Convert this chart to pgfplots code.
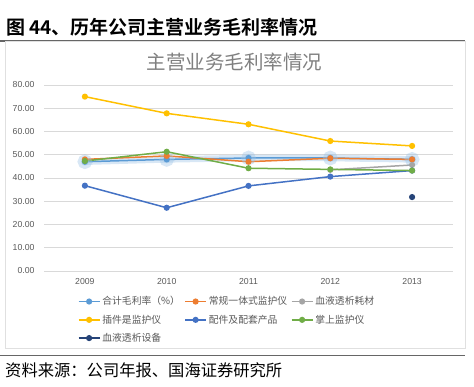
\documentclass[border=0pt]{standalone}
\usepackage{pgfplots}
\pgfplotsset{compat=1.18}
\usepackage{fontspec}
\setmainfont{Liberation Sans}
\newfontfamily\cjk{Noto Sans CJK SC}
\newfontfamily\cjkbold{Noto Sans CJK SC Bold}
\definecolor{cA}{HTML}{5B9BD5}
\definecolor{cB}{HTML}{ED7D31}
\definecolor{cC}{HTML}{A5A5A5}
\definecolor{cD}{HTML}{FFC000}
\definecolor{cE}{HTML}{4472C4}
\definecolor{cF}{HTML}{70AD47}
\definecolor{cG}{HTML}{264478}
\definecolor{txtgray}{HTML}{595959}
\definecolor{titlegray}{HTML}{7F7F7F}
\definecolor{gridgray}{HTML}{D9D9D9}
\begin{document}
\begin{tikzpicture}
\useasboundingbox (0pt,0pt) rectangle (474pt,387pt);
\node[anchor=west, inner sep=0pt, font=\cjkbold\fontsize{19}{19}\selectfont] at (6pt,360pt) {图\ 44、历年公司主营业务毛利率情况};
\draw[line width=1.3pt, color=black!60] (0pt,346pt) -- (465pt,346pt);
\draw[color=black!12, line width=0.7pt] (5pt,346pt) rectangle (465pt,39pt);
\draw[line width=1.3pt, color=black!60] (0pt,31.3pt) -- (465pt,31.3pt);
\node[anchor=west, inner sep=0pt, font=\cjk\fontsize{16.3}{16}\selectfont] at (5pt,17pt) {资料来源：公司年报、国海证券研究所};
\node[font=\cjk\fontsize{19.5}{19.5}\selectfont, text=titlegray] at (234.5pt,325pt) {主营业务毛利率情况};
\begin{axis}[
  at={(44pt,116pt)}, anchor=south west,
  scale only axis, width=409pt, height=186pt,
  xmin=2008.5, xmax=2013.5, ymin=0, ymax=80,
  xtick={2009,2010,2011,2012,2013},
  xticklabel style={/pgf/number format/1000 sep={}, yshift=-4pt},
  ytick={0,10,...,80},
  yticklabel style={/pgf/number format/.cd, fixed, fixed zerofill, precision=2, /tikz/xshift=-6pt},
  /pgf/number format/assume math mode=true,
  tick label style={font=\fontsize{8.7}{10}\selectfont, text=txtgray},
  axis x line*=bottom,
  axis y line*=left,
  x axis line style={draw=gridgray, -},
  y axis line style={draw=none},
  major tick length=0pt,
  ymajorgrids, grid style={draw=gridgray, line width=0.6pt},
  every axis plot/.append style={line width=1.5pt, mark=*, mark size=2.3pt},
  legend columns=3,
  legend image code/.code={\draw[mark repeat=2,mark phase=2] plot coordinates {(0pt,0pt)(10.5pt,0pt)(21pt,0pt)};},
  legend style={at={(axis description cs:0.075,-0.115)}, anchor=north west, draw=none,
    font=\cjk\fontsize{9.8}{11}\selectfont, text=txtgray, row sep=4.5pt,
    /tikz/every even column/.append style={column sep=0pt}},
  legend cell align=left,
]
\addplot[cA!60, line width=6.5pt, opacity=0.4, mark=*, mark size=4pt, forget plot] coordinates {(2009,47.0)(2010,48.0)(2011,48.6)(2012,48.6)(2013,48.0)};
\addplot[cA, mark options={fill=cA}] coordinates {(2009,47.0)(2010,48.0)(2011,48.6)(2012,48.6)(2013,48.0)};
\addlegendentry{\makebox[80pt][l]{合计毛利率（\%）}}
\addplot[cB, mark options={fill=cB}] coordinates {(2009,48.0)(2010,49.5)(2011,47.0)(2012,48.5)(2013,48.0)};
\addlegendentry{\makebox[80pt][l]{常规一体式监护仪}}
\addplot[cC, mark options={fill=cC}] coordinates {(2012,43.5)(2013,45.6)};
\addlegendentry{\makebox[80pt][l]{血液透析耗材}}
\addplot[cD, mark options={fill=cD}] coordinates {(2009,75.0)(2010,67.8)(2011,63.1)(2012,55.9)(2013,53.8)};
\addlegendentry{\makebox[80pt][l]{插件是监护仪}}
\addplot[cE, mark options={fill=cE}] coordinates {(2009,36.7)(2010,27.2)(2011,36.6)(2012,40.6)(2013,43.2)};
\addlegendentry{\makebox[80pt][l]{配件及配套产品}}
\addplot[cF, mark options={fill=cF}] coordinates {(2009,47.3)(2010,51.3)(2011,44.2)(2012,43.7)(2013,43.2)};
\addlegendentry{\makebox[80pt][l]{掌上监护仪}}
\addplot[cG, mark options={fill=cG}] coordinates {(2013,31.8)};
\addlegendentry{\makebox[80pt][l]{血液透析设备}}
\end{axis}
\end{tikzpicture}
\end{document}
